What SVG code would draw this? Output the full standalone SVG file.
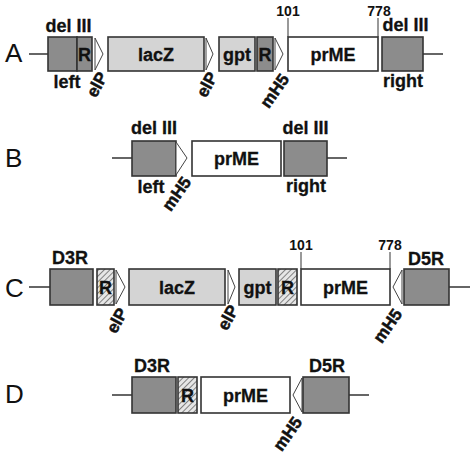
<svg xmlns="http://www.w3.org/2000/svg" width="475" height="455" viewBox="0 0 475 455">
<defs>
<pattern id="hatch" patternUnits="userSpaceOnUse" width="4" height="4" patternTransform="rotate(45)">
<rect width="4" height="4" fill="#e6e6e6"/>
<line x1="0" y1="0" x2="0" y2="4" stroke="#555" stroke-width="1.4"/>
</pattern>
<style>
.dk{fill:#8c8c8c;stroke:#333;stroke-width:1.6}
.lt{fill:#d4d4d4;stroke:#333;stroke-width:1.6}
.wh{fill:#fff;stroke:#333;stroke-width:1.6}
.ht{fill:url(#hatch);stroke:#333;stroke-width:1.6}
.pr{fill:#fff;stroke:#444;stroke-width:1}
.ln{stroke:#333;stroke-width:1.5;fill:none}
.tk{stroke:#555;stroke-width:1.2;fill:none}
text{font-family:"Liberation Sans",Arial,sans-serif;fill:#111}
.b{font-weight:bold;font-size:18px;stroke:#111;stroke-width:0.3}
.bl{font-weight:bold;font-size:18px;text-anchor:middle;stroke:#111;stroke-width:0.3}
.n{font-weight:bold;font-size:14px;text-anchor:middle}
.rt{font-weight:bold;font-size:17px;text-anchor:end;stroke:#111;stroke-width:0.5}
.L{font-size:26px}
.c{text-anchor:middle}
</style>
</defs>
<g id="connectors">
<line class="ln" x1="29" y1="54" x2="48" y2="54"/>
<line class="ln" x1="423" y1="54" x2="443" y2="54"/>
<line class="ln" x1="112" y1="158" x2="132" y2="158"/>
<line class="ln" x1="327" y1="158" x2="347" y2="158"/>
<line class="ln" x1="29" y1="287" x2="50" y2="287"/>
<line class="ln" x1="449" y1="287" x2="470" y2="287"/>
<line class="ln" x1="112" y1="395" x2="132" y2="395"/>
<line class="ln" x1="349" y1="395" x2="369" y2="395"/>
<line class="tk" x1="288" y1="18" x2="288" y2="37"/>
<line class="tk" x1="378" y1="18" x2="378" y2="37"/>
<line class="tk" x1="301" y1="252" x2="301" y2="269"/>
<line class="tk" x1="390" y1="252" x2="390" y2="269"/>
</g>
<g id="rowA">
<text class="L" x="5" y="62">A</text>
<rect class="dk" x="48" y="37" width="29" height="34"/>
<rect class="dk" x="77" y="37" width="15" height="34"/>
<text class="b c" x="84.5" y="61">R</text>
<text class="bl" x="68.5" y="32">del III</text>
<text class="bl" x="67" y="88">left</text>
<polygon class="pr" points="95,38 103,54 95,70"/>
<text class="rt" transform="translate(108,76) rotate(-62)">elP</text>
<rect class="lt" x="108" y="37" width="96" height="34"/>
<text class="b c" x="156" y="61">lacZ</text>
<polygon class="pr" points="206,38 213,54 206,70"/>
<text class="rt" transform="translate(218,76) rotate(-62)">elP</text>
<rect class="lt" x="219" y="37" width="36" height="34"/>
<text class="b c" x="237" y="61">gpt</text>
<rect class="dk" x="257" y="37" width="16" height="34"/>
<text class="b c" x="265" y="61">R</text>
<polygon class="pr" points="275,38 283,54 275,70"/>
<text class="rt" transform="translate(290,79) rotate(-55)">mH5</text>
<rect class="wh" x="288" y="37" width="90" height="34"/>
<text class="b c" x="333" y="61">prME</text>
<text class="n" x="288" y="16">101</text>
<text class="n" x="379" y="16">778</text>
<rect class="dk" x="382" y="37" width="41" height="34"/>
<text class="bl" x="405.5" y="31">del III</text>
<text class="bl" x="403" y="87">right</text>
</g>
<g id="rowB">
<text class="L" x="5" y="167">B</text>
<rect class="dk" x="132" y="141" width="44" height="35"/>
<text class="bl" x="154" y="134">del III</text>
<text class="bl" x="151" y="193">left</text>
<polygon class="pr" points="176,142 187,158 176,175"/>
<text class="rt" transform="translate(192,182) rotate(-55)">mH5</text>
<rect class="wh" x="192" y="141" width="89" height="35"/>
<text class="b c" x="236.5" y="165">prME</text>
<rect class="dk" x="284" y="141" width="43" height="35"/>
<text class="bl" x="305.5" y="134">del III</text>
<text class="bl" x="306" y="192">right</text>
</g>
<g id="rowC">
<text class="L" x="5" y="297">C</text>
<rect class="dk" x="50" y="269" width="43" height="36"/>
<text class="bl" x="70" y="264">D3R</text>
<rect class="ht" x="97" y="269" width="17" height="36"/>
<text class="b c" x="105.5" y="294">R</text>
<polygon class="pr" points="116,270 125,287 116,304"/>
<text class="rt" transform="translate(128,312) rotate(-62)">elP</text>
<rect class="lt" x="129" y="269" width="96" height="36"/>
<text class="b c" x="177" y="294">lacZ</text>
<polygon class="pr" points="228,270 235,287 228,304"/>
<text class="rt" transform="translate(239,309) rotate(-62)">elP</text>
<rect class="lt" x="239" y="269" width="37" height="36"/>
<text class="b c" x="257.5" y="294">gpt</text>
<rect class="ht" x="278" y="269" width="19" height="36"/>
<text class="b c" x="287.5" y="294">R</text>
<rect class="wh" x="301" y="269" width="89" height="36"/>
<text class="b c" x="345.5" y="294">prME</text>
<text class="n" x="301" y="250">101</text>
<text class="n" x="390" y="250">778</text>
<polygon class="pr" points="402,270 393,287 402,304"/>
<text class="rt" transform="translate(403,314) rotate(-55)">mH5</text>
<rect class="dk" x="404" y="269" width="45" height="36"/>
<text class="bl" x="426" y="265">D5R</text>
</g>
<g id="rowD">
<text class="L" x="5" y="403">D</text>
<rect class="dk" x="132" y="377" width="44" height="36"/>
<text class="bl" x="152" y="372">D3R</text>
<rect class="ht" x="178" y="377" width="19" height="36"/>
<text class="b c" x="187.5" y="402">R</text>
<rect class="wh" x="201" y="377" width="89" height="36"/>
<text class="b c" x="245.5" y="402">prME</text>
<polygon class="pr" points="302,378 293,395 302,412"/>
<text class="rt" transform="translate(303,422) rotate(-55)">mH5</text>
<rect class="dk" x="303" y="377" width="46" height="36"/>
<text class="bl" x="327" y="372">D5R</text>
</g>
</svg>
